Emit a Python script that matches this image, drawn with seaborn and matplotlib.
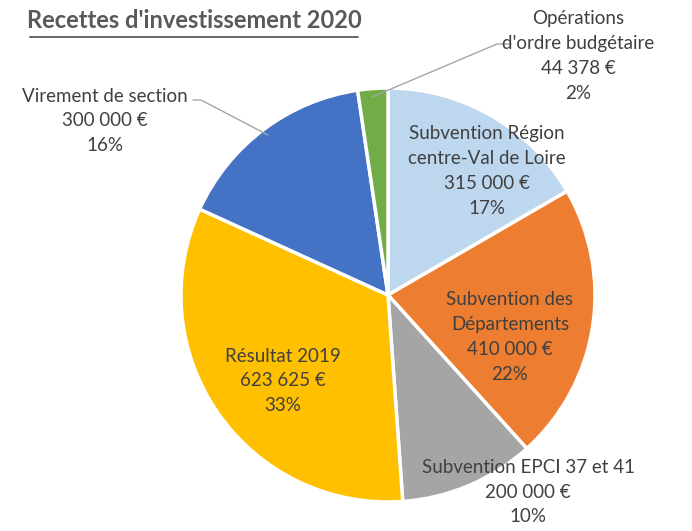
import matplotlib
matplotlib.use("Agg")
import matplotlib.pyplot as plt
import seaborn as sns

# donnees du graphique
categories = ["Subvention Région\ncentre-Val de Loire", "Subvention des\nDépartements",
              "Subvention EPCI 37 et 41", "Résultat 2019", "Virement de section",
              "Opérations\nd'ordre budgétaire"]
montants = [315000, 410000, 200000, 623625, 300000, 44378]
montants_txt = ["315 000 €", "410 000 €", "200 000 €", "623 625 €", "300 000 €", "44 378 €"]
pourcents = ["17%", "22%", "10%", "33%", "16%", "2%"]
couleurs = ["#BDD7EE", "#ED7D31", "#A5A5A5", "#FFC000", "#4472C4", "#70AD47"]

sns.set_theme(style="white")
plt.rcParams['font.family'] = ['Lato', 'DejaVu Sans']

fig = plt.figure(figsize=(6.92, 5.31), dpi=100)
ax = fig.add_axes([0, 0, 1, 1])

# centre et rayon en pixels (y vers le haut)
cx, cy, r = 388, 531 - 295, 207
ax.pie(montants, colors=couleurs, startangle=90, counterclock=False,
       center=(cx, cy), radius=r, frame=True,
       wedgeprops=dict(edgecolor="white", linewidth=2.5))
ax.set_xlim(0, 692)
ax.set_ylim(0, 531)
ax.axis("off")

# positions des etiquettes (pixels, y depuis le haut)
pos = [(487, 171), (510, 337), (528, 492), (283, 381), (105, 121), (578, 56)]
gris = "#404040"
for cat, mt, pc, (x, y) in zip(categories, montants_txt, pourcents, pos):
    ax.text(x, 531 - y, cat + "\n" + mt + "\n" + pc, ha="center", va="center",
            fontsize=13.5, color=gris, linespacing=1.55)

# lignes de rappel
ax.plot([372, 497, 511], [531 - 97, 531 - 44, 531 - 44], color="#A6A6A6", lw=1)
ax.plot([193, 201, 268], [531 - 100, 531 - 100, 531 - 135], color="#A6A6A6", lw=1)

# titre souligne
ax.text(194, 531 - 21, "Recettes d'investissement 2020", ha="center", va="center",
        fontsize=17, fontweight="bold", color="#595959")
ax.plot([30, 358], [531 - 37, 531 - 37], color="#595959", lw=1.3)

fig.savefig("out.png", dpi=100)
